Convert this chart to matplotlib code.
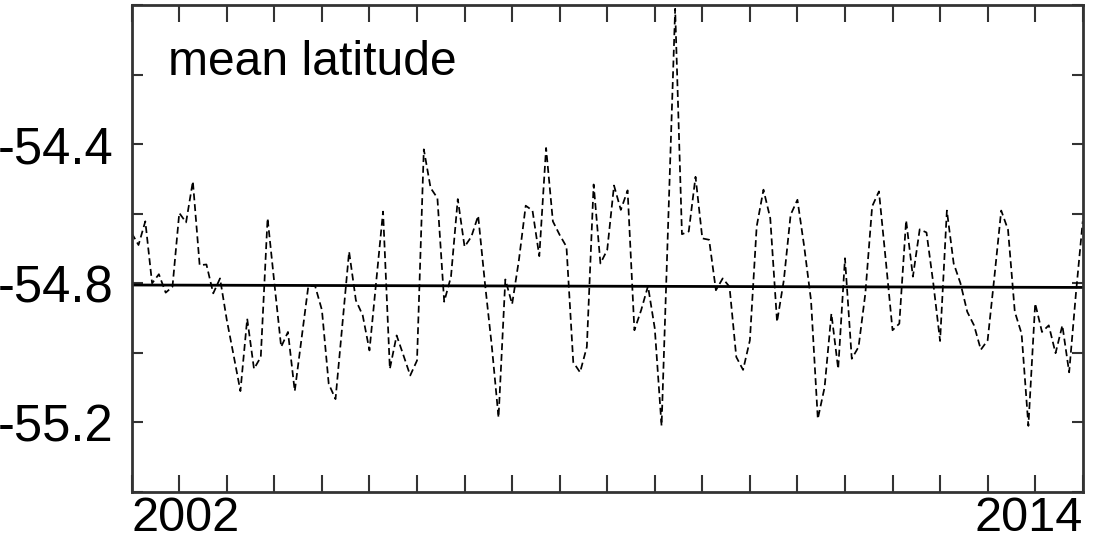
import numpy as np
import matplotlib
matplotlib.use("Agg")
import matplotlib.pyplot as plt

# monthly mean latitude (degrees)
lat = [
    -54.656, -54.690, -54.622, -54.800, -54.774, -54.827, -54.810, -54.598, -54.625, -54.507,
    -54.748, -54.746, -54.829, -54.786, -54.906, -55.007, -55.110, -54.902, -55.046, -55.012,
    -54.613, -54.800, -54.983, -54.940, -55.110, -54.959, -54.808, -54.808, -54.877, -55.089,
    -55.133, -54.921, -54.709, -54.849, -54.892, -54.993, -54.794, -54.594, -55.046, -54.950,
    -55.007, -55.065, -55.022, -54.415, -54.526, -54.555, -54.853, -54.781, -54.558, -54.695,
    -54.666, -54.606, -54.800, -54.979, -55.186, -54.789, -54.860, -54.733, -54.577, -54.591,
    -54.722, -54.411, -54.622, -54.661, -54.695, -55.027, -55.056, -54.983, -54.516, -54.743,
    -54.704, -54.519, -54.589, -54.533, -54.935, -54.877, -54.808, -54.930, -55.210, -54.608,
    -54.011, -54.659, -54.651, -54.494, -54.671, -54.675, -54.820, -54.786, -54.810, -55.012,
    -55.049, -54.964, -54.637, -54.531, -54.613, -54.911, -54.791, -54.603, -54.560, -54.695,
    -54.849, -55.190, -55.099, -54.887, -55.046, -54.728, -55.017, -54.983, -54.829, -54.579,
    -54.536, -54.733, -54.935, -54.916, -54.619, -54.781, -54.645, -54.654, -54.800, -54.966,
    -54.591, -54.743, -54.800, -54.882, -54.921, -54.991, -54.964, -54.781, -54.591, -54.646,
    -54.882, -54.945, -55.210, -54.858, -54.940, -54.921, -55.001, -54.921, -55.056, -54.829,
    -54.622,
]
# linear trend, start and end values
trend = [-54.805, -54.812]
year_labels = ["2002", "2014"]

months = np.arange(len(lat))
n = months[-1]

plt.rcParams["font.family"] = ["Liberation Sans", "DejaVu Sans"]

fig = plt.figure(figsize=(10.94, 5.41), dpi=100)
ax = fig.add_axes([0.1204, 0.0906, 0.8693, 0.9002])

ax.plot(months, lat, color="black", lw=1.25, ls=(0, (4, 2.2)))
ax.plot([0, n], trend, color="black", lw=2.0)

ax.set_xlim(0, n)
ax.set_ylim(-55.4, -54.0)

ax.set_xticks(np.linspace(0, n, 21))
xl = [""] * 21
xl[0] = year_labels[0]
xl[-1] = year_labels[1]
ax.set_xticklabels(xl)
labs = ax.get_xticklabels()
labs[0].set_ha("left")
labs[-1].set_ha("right")

ax.set_yticks(np.arange(-55.4, -53.99, 0.2))
ax.set_yticklabels(["" if round(v, 1) not in (-54.4, -54.8, -55.2) else f"{v:.1f}"
                    for v in np.arange(-55.4, -53.99, 0.2)])

ax.tick_params(axis="x", direction="in", length=12, width=1.5, color="#333333",
               top=True, labelsize=35, pad=3)
ax.tick_params(axis="y", direction="in", length=8, width=1.5, color="#333333",
               right=True, labelsize=36.5, pad=13)
for s in ax.spines.values():
    s.set_color("#333333")
    s.set_linewidth(2)

ax.text(0.038, 0.856, "mean latitude", transform=ax.transAxes, fontsize=34.6,
        va="baseline", ha="left")

fig.savefig("out.png", dpi=100)
